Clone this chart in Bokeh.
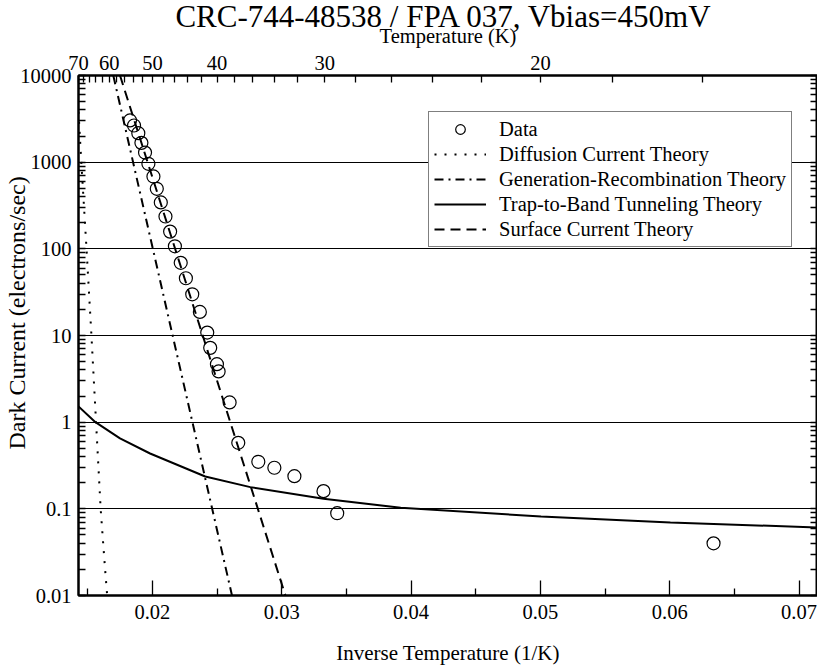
from bokeh.plotting import figure
from bokeh.models import (LinearAxis, LogAxis, FixedTicker, Range1d, Legend,
                          LegendItem, Title)
from bokeh.embed import file_html
from bokeh.resources import INLINE

FONT = "Liberation Serif"

# ---------------- data ----------------
data_inv_T = [0.01827, 0.01858, 0.01891, 0.01915, 0.01943, 0.01969, 0.02008,
              0.02034, 0.02065, 0.02101, 0.02137, 0.02174, 0.02219, 0.02259,
              0.02308, 0.02367, 0.02424, 0.02447, 0.02499, 0.02512, 0.02597,
              0.02664, 0.02819, 0.02943, 0.03098, 0.03323, 0.03429, 0.06339]
data_current = [3030, 2650, 2160, 1670, 1290, 958, 684, 493, 343, 236, 158,
                107, 69, 45.8, 29.9, 18.7, 10.8, 7.2, 4.67, 3.85, 1.69, 0.578,
                0.349, 0.298, 0.238, 0.160, 0.089, 0.040]

diff_inv_T = [0.014286, 0.014503, 0.014906, 0.015286, 0.015643, 0.015999,
              0.016317, 0.016503]
diff_current = [3800, 1000, 100, 10, 1, 0.1, 0.0224, 0.01]

gr_inv_T = [0.016976, 0.026154]
gr_current = [10000, 0.01]

ttb_inv_T = [0.014286, 0.015596, 0.017495, 0.019821, 0.024085, 0.027574,
             0.033233, 0.039202, 0.050055, 0.060054, 0.071429]
ttb_current = [1.52, 1.0, 0.649, 0.435, 0.236, 0.178, 0.1306, 0.1028, 0.0816,
               0.0695, 0.061]

surf_inv_T = [0.017496, 0.030286]
surf_current = [10000, 0.01]

x_major = [0.02, 0.03, 0.04, 0.05, 0.06, 0.07]
x_major_labels = ["0.02", "0.03", "0.04", "0.05", "0.06", "0.07"]
x_minor = [0.015, 0.025, 0.035, 0.045, 0.055, 0.065]

y_major = [0.01, 0.1, 1, 10, 100, 1000, 10000]
y_major_labels = ["0.01", "0.1", "1", "10", "100", "1000", "10000"]
y_mantissas = [2, 3, 4, 5, 6, 7, 8, 9]
y_grid = [0.1, 1, 10, 100, 1000]

top_major_T = [70, 60, 50, 40, 30, 20]
top_minor_T = [68, 66, 64, 62, 58, 56, 54, 52, 48, 46, 44, 42, 38, 36, 34, 32,
               28, 26, 24, 22, 18, 16, 14]

title_text = "CRC-744-48538 /  FPA 037, Vbias=450mV"
x_title = "Inverse Temperature (1/K)"
y_title = "Dark Current (electrons/sec)"
top_title = "Temperature (K)"
legend_labels = ["Data", "Diffusion Current Theory",
                 "Generation-Recombination Theory",
                 "Trap-to-Band Tunneling Theory", "Surface Current Theory"]

# ---------------- figure ----------------
y_minor = [m * d for d in y_major[:-1] for m in y_mantissas]

p = figure(width=817, height=667,
           x_range=Range1d(1 / 70, 1 / 14), y_range=Range1d(0.01, 10000),
           y_axis_type="log", output_backend="svg", toolbar_location=None,
           min_border_left=78, min_border_right=0, min_border_top=75,
           min_border_bottom=72, background_fill_color="white",
           border_fill_color="white", outline_line_color="black",
           outline_line_width=2)

p.title.text = title_text
p.title.text_font = FONT
p.title.text_font_size = "31px"
p.title.text_font_style = "normal"
p.title.text_color = "black"
p.title.align = "center"
p.title.standoff = -25


def style_axis(ax, major_in, minor_in, standoff):
    ax.axis_line_color = "black"
    ax.axis_line_width = 2
    ax.major_tick_in = major_in
    ax.major_tick_out = 0
    ax.minor_tick_in = minor_in
    ax.minor_tick_out = 0
    ax.major_tick_line_color = "black"
    ax.minor_tick_line_color = "black"
    ax.major_tick_line_width = 1.3
    ax.minor_tick_line_width = 1.3
    ax.major_label_text_font = FONT
    ax.major_label_text_font_size = "20.5px"
    ax.major_label_text_color = "black"
    ax.major_label_standoff = standoff
    ax.axis_label_text_font = FONT
    ax.axis_label_text_font_style = "normal"
    ax.axis_label_text_color = "black"
    ax.axis_label_text_font_size = "21px"


# bottom axis
xa = p.xaxis[0]
xa.ticker = FixedTicker(ticks=x_major, minor_ticks=x_minor)
xa.major_label_overrides = dict(zip(x_major, x_major_labels))
xa.axis_label = x_title
style_axis(xa, 15, 7, 9)
xa.axis_label_standoff = 19

# left axis
ya = p.yaxis[0]
ya.ticker = FixedTicker(ticks=y_major, minor_ticks=y_minor)
ya.major_label_overrides = dict(zip(y_major, y_major_labels))
style_axis(ya, 7, 7, 7)

# y-axis title: a side title placed outside the left axis
ytitle = Title(text=y_title, align="left", vertical_align="middle",
               offset=146, standoff=-27, text_font=FONT,
               text_font_size="24px", text_font_style="normal",
               text_color="black")
p.add_layout(ytitle, "left")

# right axis (ticks only)
ra = LogAxis(ticker=FixedTicker(ticks=y_major, minor_ticks=y_minor),
             major_label_overrides={v: "" for v in y_major})
style_axis(ra, 7, 7, 0)
ra.major_label_text_font_size = "0px"
p.add_layout(ra, "right")

# top axis (temperature)
top_major = [1 / t for t in top_major_T]
top_minor = [1 / t for t in top_minor_T]
ta = LinearAxis(ticker=FixedTicker(ticks=top_major, minor_ticks=top_minor),
                major_label_overrides={1 / t: str(t) for t in top_major_T},
                axis_label=top_title)
style_axis(ta, 7, 7, 6)
ta.axis_label_text_font_size = "20.5px"
ta.axis_label_standoff = 6
p.add_layout(ta, "above")

# grid
p.xgrid.visible = False
p.ygrid.ticker = FixedTicker(ticks=y_grid)
p.ygrid.grid_line_color = "black"
p.ygrid.grid_line_width = 1.2

# curves
r_diff = p.line(diff_inv_T, diff_current, line_color="black", line_width=2,
                line_dash="2 8")
r_gr = p.line(gr_inv_T, gr_current, line_color="black", line_width=2,
              line_dash="9 5 2 5")
r_ttb = p.line(ttb_inv_T, ttb_current, line_color="black", line_width=2)
r_surf = p.line(surf_inv_T, surf_current, line_color="black", line_width=2,
                line_dash="10 6")
r_data = p.scatter(data_inv_T, data_current, marker="circle", size=13,
                   fill_color=None, line_color="black", line_width=1.2)

legend = Legend(items=[LegendItem(label=lab, renderers=[r]) for lab, r in
                       zip(legend_labels, [r_data, r_diff, r_gr, r_ttb, r_surf])])
legend.location = (350, 348)
legend.margin = 0
legend.padding = 5
legend.spacing = 1
legend.glyph_width = 52
legend.glyph_height = 24
legend.label_height = 24
legend.label_standoff = 13
legend.label_text_font = FONT
legend.label_text_font_size = "20.5px"
legend.label_text_color = "black"
legend.border_line_color = "black"
legend.border_line_width = 1.5
legend.background_fill_color = "white"
legend.background_fill_alpha = 1.0
p.add_layout(legend)

open("out.html", "w").write(file_html(p, INLINE))
